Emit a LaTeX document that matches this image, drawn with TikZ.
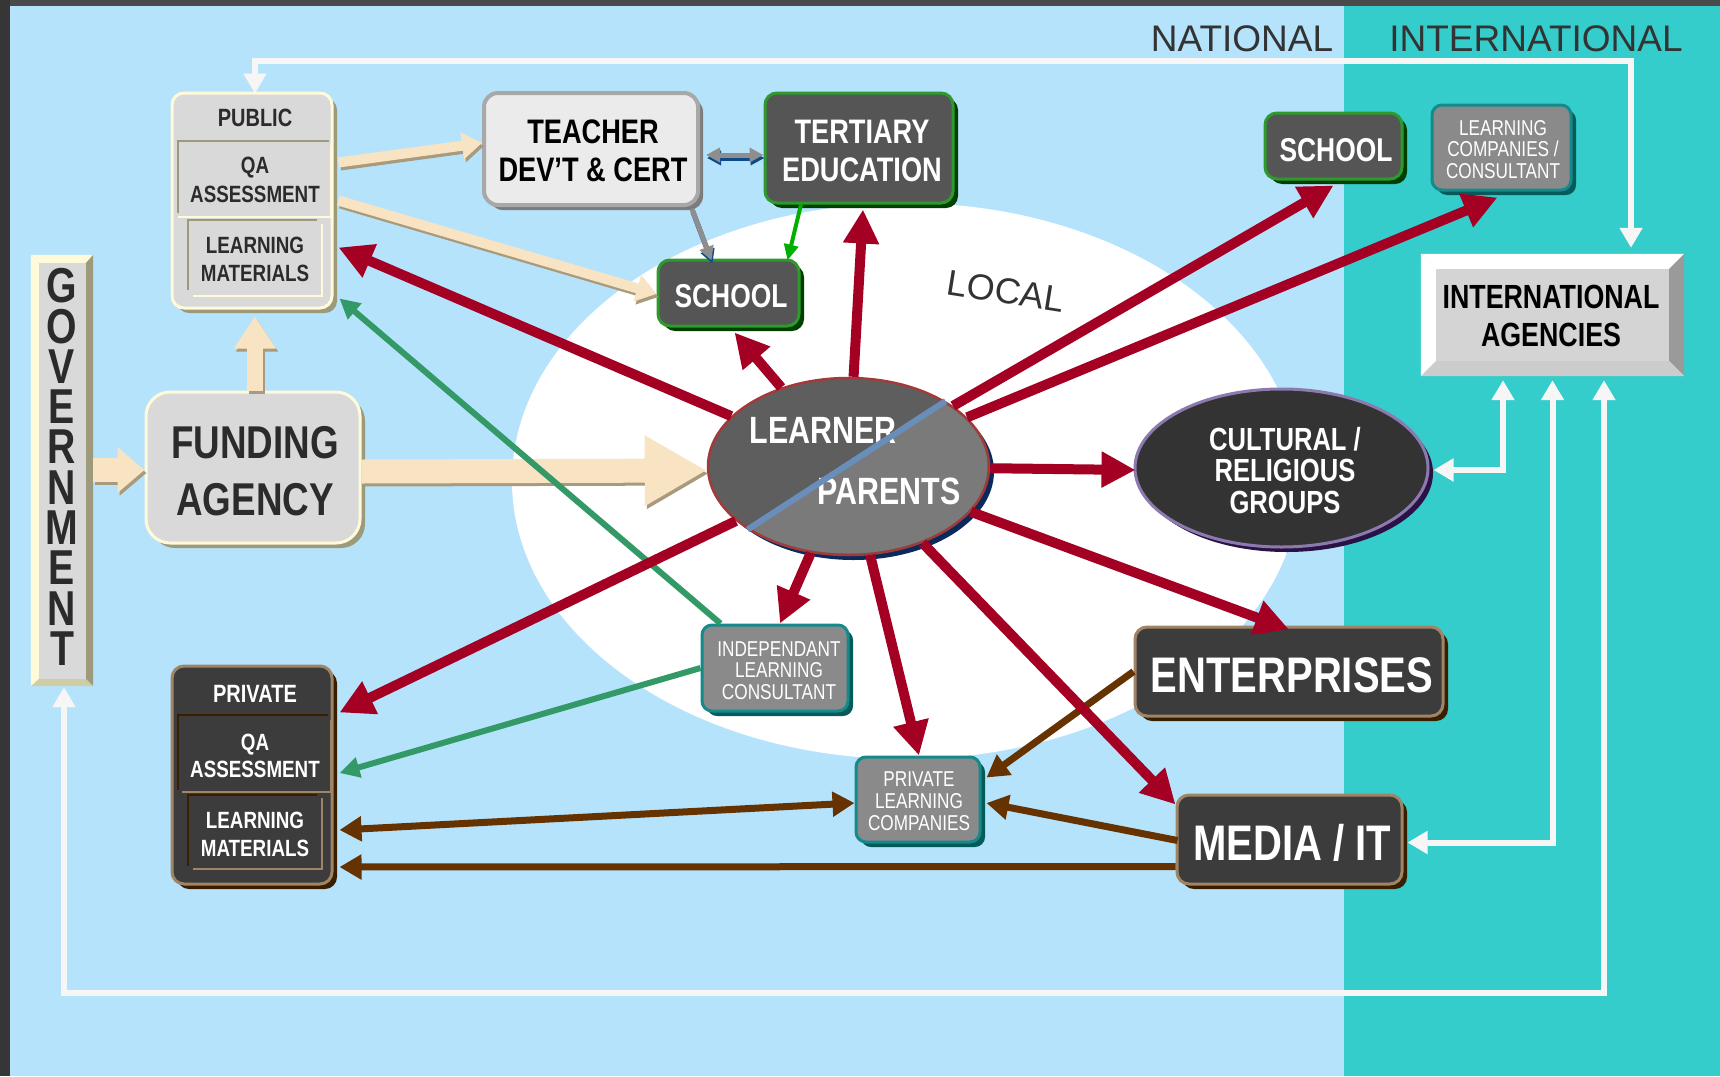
\documentclass[tikz,border=0pt]{standalone}
\usepackage{fontspec}
\setmainfont{Liberation Sans}
\newfontfamily\cnd[FakeStretch=0.8]{Liberation Sans}
\usetikzlibrary{arrows.meta,calc,shadows,shapes.geometric}
\definecolor{frameD}{HTML}{4A4A4A}
\definecolor{frameL}{HTML}{363636}
\definecolor{skyb}{HTML}{B6E3FC}
\definecolor{tealb}{HTML}{35CCCC}
\definecolor{redA}{HTML}{A30023}
\definecolor{greenA}{HTML}{339966}
\definecolor{greenT}{HTML}{00B000}
\definecolor{brownA}{HTML}{663300}
\definecolor{creamA}{HTML}{F8E4C2}
\definecolor{creamS}{HTML}{A89A7C}
\definecolor{whiteA}{HTML}{F6F6F6}
\definecolor{hiCream}{HTML}{FFFBDA}
\definecolor{khaki}{HTML}{9C9A7A}
\definecolor{khakiL}{HTML}{CFCDA5}
\definecolor{faceL}{HTML}{D9D9D9}
\definecolor{faceT}{HTML}{EBEBEB}
\definecolor{faceI}{HTML}{D4D4D4}
\definecolor{bevR}{HTML}{9A9A9A}
\definecolor{bevB}{HTML}{CCCCCC}
\definecolor{grayB}{HTML}{A8A8A8}
\definecolor{grayS}{HTML}{7C7C7C}
\definecolor{faceD}{HTML}{3C3C3C}
\definecolor{faceG}{HTML}{555555}
\definecolor{greenB}{HTML}{2E9A2E}
\definecolor{greenS}{HTML}{003F00}
\definecolor{faceM}{HTML}{8A8A8A}
\definecolor{tealB}{HTML}{16898A}
\definecolor{tealS}{HTML}{055A5A}
\definecolor{tanB}{HTML}{A08466}
\definecolor{brownS}{HTML}{3A1E00}
\definecolor{purB}{HTML}{8C7AAE}
\definecolor{purS}{HTML}{2A1245}
\definecolor{cultF}{HTML}{333333}
\definecolor{lrnA}{HTML}{5E5E5E}
\definecolor{lrnB}{HTML}{7A7A7A}
\definecolor{lrnR}{HTML}{A33A3A}
\definecolor{navyS}{HTML}{0B2A5C}
\definecolor{diagB}{HTML}{6A8EBA}
\definecolor{blueS}{HTML}{0B4A8B}
\definecolor{grayA}{HTML}{8E8E8E}
\definecolor{txtD}{HTML}{2B2B2B}
\definecolor{txtT}{HTML}{333333}
\tikzset{
  shd/.style={drop shadow={shadow xshift=5pt, shadow yshift=-5pt, opacity=1, fill=#1}},
  lightbox/.style={rectangle, rounded corners=12pt, inner sep=0pt, fill=faceL, draw=hiCream, line width=3pt, shd=khaki},
  teachbox/.style={rectangle, rounded corners=14pt, inner sep=0pt, fill=faceT, draw=grayB, line width=4pt, shd=grayS},
  greenbox/.style={rectangle, rounded corners=12pt, inner sep=0pt, fill=faceG, draw=greenB, line width=3pt, shd=greenS},
  tealbox/.style={rectangle, rounded corners=10pt, inner sep=0pt, fill=faceM, draw=tealB, line width=3pt, shd=tealS},
  brownbox/.style={rectangle, rounded corners=12pt, inner sep=0pt, fill=faceD, draw=tanB, line width=3pt, shd=brownS},
  bevelbox/.style={rectangle, inner sep=0pt},
  bt/.style 2 args={font=\cnd\bfseries\fontsize{#1}{#2}\selectfont, align=center, inner sep=0pt},
  rt/.style 2 args={font=\cnd\fontsize{#1}{#2}\selectfont, align=center, inner sep=0pt, text=white},
  plaintxt/.style={font=\fontsize{#1}{#1}\selectfont, inner sep=0pt, text=txtT},
  redar/.style={draw=redA, line width=10pt, -{Triangle[length=34pt,width=34pt]}},
  greenar/.style={draw=greenA, line width=6pt, -{Triangle[length=20pt,width=20pt]}},
  brownar/.style={draw=brownA, line width=7pt, -{Triangle[length=22pt,width=24pt]}},
  brownarr/.style={draw=brownA, line width=7pt, {Triangle[length=22pt,width=24pt]}-{Triangle[length=22pt,width=24pt]}},
  whitear/.style={draw=whiteA, line width=6pt, {Triangle[length=20pt,width=22pt]}-{Triangle[length=20pt,width=22pt]}},
  creamar/.style n args={3}{draw=creamA, line width=#1pt, -{Triangle[length=#2pt,width=#3pt]}},
  creamsh/.style n args={3}{draw=creamS, line width=#1pt, -{Triangle[length=#2pt,width=#3pt]}, transform canvas={shift={(2pt,-3pt)}}},
  grayar/.style={draw=grayA, line width=5pt, #1},
  bluear/.style={draw=blueS, line width=5pt, #1, transform canvas={shift={(1pt,-3pt)}}},
}
\begin{document}
\begin{tikzpicture}[x=1pt,y=-1pt]
\useasboundingbox (0,0) rectangle (1720,1076);
% background
\fill[frameD] (0,0) rectangle (1720,1076);
\fill[frameL] (0,0) rectangle (10,1076);
\fill[skyb] (10,6) rectangle (1344,1076);
\fill[tealb] (1344,6) rectangle (1720,1076);
\fill[white] (906,481) ellipse [x radius=394pt, y radius=278pt];
% titles
\node[plaintxt=37] (natl) at (1242,39) {NATIONAL};
\node[plaintxt=37] (intlT) at (1536,39) {INTERNATIONAL};
\node[plaintxt=36, rotate=-9] (local) at (1006,291) {LOCAL};

% GOVERNMENT
\node[bevelbox, minimum width=62pt, minimum height=431pt, fill=faceL] (gov) at (62,470.5) {};
\fill[hiCream] (gov.north west) -- (gov.north east) -- ($(gov.north east)+(-7,8)$) -- ($(gov.north west)+(8,8)$) -- cycle;
\fill[hiCream] (gov.north west) -- ($(gov.north west)+(8,8)$) -- ($(gov.south west)+(8,-7)$) -- (gov.south west) -- cycle;
\fill[khaki] (gov.north east) -- (gov.south east) -- ($(gov.south east)+(-7,-7)$) -- ($(gov.north east)+(-7,8)$) -- cycle;
\fill[khakiL] (gov.south west) -- (gov.south east) -- ($(gov.south east)+(-7,-7)$) -- ($(gov.south west)+(8,-7)$) -- cycle;
\node[bt={49}{40.3}, text=txtD] (govt) at (62,467) {G\\O\\V\\E\\R\\N\\M\\E\\N\\T};

% FUNDING AGENCY
\node[lightbox, rounded corners=24pt, minimum width=214pt, minimum height=151pt] (fund) at (253,467.5) {};
\node[bt={46}{57}, text=txtD] (fundt) at (255,471.5) {FUNDING\\AGENCY};

% PUBLIC
\node[lightbox, minimum width=160pt, minimum height=215pt] (pub) at (252,200.5) {};
\draw[khaki, line width=2.5pt] (178,213) -- (178,141) -- (329,141);
\draw[hiCream, line width=2.5pt] (331,145) -- (331,217) -- (178,217);
\draw[khaki, line width=2.5pt] (188,290) -- (188,220) -- (317,220);
\draw[hiCream, line width=2.5pt] (322,224) -- (322,296) -- (193,296);
\node[bt={25}{29}, text=txtD] (pubt1) at (255,118) {PUBLIC};
\node[bt={23.5}{29}, text=txtD] (pubt2) at (255,179.5) {QA\\ASSESSMENT};
\node[bt={23.5}{28}, text=txtD] (pubt3) at (255,259) {LEARNING\\MATERIALS};

% PRIVATE
\node[brownbox, minimum width=160pt, minimum height=218pt] (priv) at (252,775) {};
\draw[brownS, line width=2.5pt] (178,790) -- (178,715) -- (328,715);
\draw[tanB, line width=2.5pt] (331,720) -- (331,792) -- (182,792);
\draw[brownS, line width=2.5pt] (188,866) -- (188,795) -- (317,795);
\draw[tanB, line width=2.5pt] (322,798) -- (322,869) -- (193,869);
\node[bt={25}{29}, text=white] (privt1) at (255,694) {PRIVATE};
\node[bt={23.5}{27}, text=white] (privt2) at (255,755.5) {QA\\ASSESSMENT};
\node[bt={23.5}{28}, text=white] (privt3) at (255,834) {LEARNING\\MATERIALS};

% TEACHER / TERTIARY / SCHOOLS
\node[teachbox, minimum width=214pt, minimum height=112pt] (teach) at (591,149) {};
\node[bt={34}{38}, text=black] (teacht) at (593,151) {TEACHER\\DEV’T \& CERT};
\node[greenbox, minimum width=188pt, minimum height=110pt] (tert) at (859,148) {};
\node[bt={34}{38}, text=white] (tertt) at (862,151) {TERTIARY\\EDUCATION};
\node[greenbox, minimum width=141pt, minimum height=66pt] (schL) at (728.5,293) {};
\node[bt={33}{38}, text=white] (schLt) at (731,296) {SCHOOL};
\node[greenbox, minimum width=137pt, minimum height=66pt] (schI) at (1333.5,146) {};
\node[bt={33}{38}, text=white] (schIt) at (1336,150) {SCHOOL};
\node[tealbox, minimum width=139pt, minimum height=85pt] (lcc) at (1501.5,147.5) {};
\node[rt={21.5}{21.5}] (lcct) at (1503,149.5) {LEARNING\\COMPANIES /\\CONSULTANT};

% INTERNATIONAL AGENCIES
\node[bevelbox, minimum width=263pt, minimum height=122pt, fill=faceI] (intl) at (1552.5,315) {};
\fill[white] (intl.north west) -- (intl.north east) -- ($(intl.north east)+(-15,15)$) -- ($(intl.north west)+(15,15)$) -- cycle;
\fill[white] (intl.north west) -- ($(intl.north west)+(15,15)$) -- ($(intl.south west)+(15,-15)$) -- (intl.south west) -- cycle;
\fill[bevR] (intl.north east) -- (intl.south east) -- ($(intl.south east)+(-15,-15)$) -- ($(intl.north east)+(-15,15)$) -- cycle;
\fill[bevB] (intl.south west) -- (intl.south east) -- ($(intl.south east)+(-15,-15)$) -- ($(intl.south west)+(15,-15)$) -- cycle;
\node[bt={33.5}{38}, text=black] (intlt) at (1551,316) {INTERNATIONAL\\AGENCIES};

% CULTURAL
\node[ellipse, inner sep=0pt, minimum width=293pt, minimum height=158pt, fill=cultF, draw=purB, line width=3pt, shd=purS] (cult) at (1281.5,468) {};
\node[bt={32}{31.5}, text=white] (cultt) at (1285,470.5) {CULTURAL /\\RELIGIOUS\\GROUPS};

% LEARNER / PARENTS
\node[ellipse, inner sep=0pt, minimum width=281pt, minimum height=177pt, fill=lrnA, draw=lrnR, line width=2.5pt, shd=navyS] (learner) at (848.5,466.5) {};
\begin{scope}
\clip (848.5,466.5) ellipse [x radius=139pt, y radius=87pt];
\fill[lrnB] ($(learner.212)+(-96,63)$) -- ($(learner.34)+(96,-63)$) -- ($(learner.34)+(96,-63)+(126,191)$) -- ($(learner.212)+(-96,63)+(126,191)$) -- cycle;
\end{scope}
\node[bt={38}{40}, text=white] (learnert) at (823,430) {LEARNER};
\node[bt={38}{40}, text=white] (parentt) at (889,491) {PARENTS};
\draw[diagB, line width=6pt] (learner.212) -- (learner.34);

% ENTERPRISES, MEDIA, PLC, ILC
\node[brownbox, minimum width=308pt, minimum height=89pt] (ent) at (1289,671.5) {};
\node[bt={50}{50}, text=white] (entt) at (1292,675) {ENTERPRISES};
\node[brownbox, minimum width=225pt, minimum height=89pt] (media) at (1289.5,839.5) {};
\node[bt={50}{50}, text=white] (mediat) at (1292,843) {MEDIA / IT};
\node[tealbox, minimum width=124pt, minimum height=85pt] (plc) at (918,799.5) {};
\node[rt={21.5}{22}] (plct) at (919,801) {PRIVATE\\LEARNING\\COMPANIES};
\node[tealbox, minimum width=146pt, minimum height=86pt] (ilc) at (775,668) {};
\node[rt={21.5}{21.5}] (ilct) at (779,670.5) {INDEPENDANT\\LEARNING\\CONSULTANT};

% cream arrows
\draw[creamsh={24}{27}{44}] ($(gov.east)+(0,-0.5)$) -- ($(fund.west)+(0,2.5)$);
\draw[creamar={24}{27}{44}] ($(gov.east)+(0,-0.5)$) -- ($(fund.west)+(0,2.5)$);
\draw[creamsh={16}{32}{40}] ($(fund.north)+(2,0)$) -- ($(pub.south)+(3,7)$);
\draw[creamar={16}{32}{40}] ($(fund.north)+(2,0)$) -- ($(pub.south)+(3,7)$);
\draw[creamsh={24}{62}{66}] ($(fund.east)+(0,4)$) -- ($(learner.west)+(0,4)$);
\draw[creamar={24}{62}{66}] ($(fund.east)+(0,4)$) -- ($(learner.west)+(0,4)$);
\draw[creamsh={10}{20}{26}] ($(pub.east)+(5,-38)$) -- ($(teach.west)+(0,-6)$);
\draw[creamar={10}{20}{26}] ($(pub.east)+(5,-38)$) -- ($(teach.west)+(0,-6)$);
\draw[creamsh={10}{20}{26}] ($(pub.east)+(5,0)$) -- ($(schL.west)+(0,1)$);
\draw[creamar={10}{20}{26}] ($(pub.east)+(5,0)$) -- ($(schL.west)+(0,1)$);

% white connectors
\draw[whitear] ($(pub.north)+(3,2)$) -- ++(0,-33) -| ($(intl.north)+(78.5,-6)$);
\draw[whitear] ($(gov.south)+(2,1)$) -- ++(0,306) -| ($(intl.south)+(51.5,4)$);
\draw[whitear] ($(cult.east)+(4,2)$) -| ($(intl.south)+(-49.5,4)$);
\draw[whitear] ($(media.east)+(4,3)$) -| ($(intl.south)+(0,4)$);

% teacher / tertiary links
\draw[bluear={{Triangle[length=14pt,width=14pt]}-{Triangle[length=14pt,width=14pt]}}] ($(teach.east)+(6,6)$) -- ($(tert.west)+(0,7)$);
\draw[grayar={{Triangle[length=14pt,width=14pt]}-{Triangle[length=14pt,width=14pt]}}] ($(teach.east)+(6,6)$) -- ($(tert.west)+(0,7)$);
\draw[bluear={-{Triangle[length=14pt,width=14pt]}}] ($(teach.south east)+(-8,2)$) -- ($(schL.north)+(-17,2)$);
\draw[grayar={-{Triangle[length=14pt,width=14pt]}}] ($(teach.south east)+(-8,2)$) -- ($(schL.north)+(-17,2)$);
\draw[draw=greenT, line width=4pt, -{Triangle[length=16pt,width=14pt]}] ($(tert.south)+(-58,0)$) -- ($(schL.north east)+(-13,2)$);

% green arrows
\draw[greenar] ($(ilc.north west)+(20,0)$) -- ($(pub.south east)+(6,-11)$);
\draw[greenar] (ilc.west) -- ($(priv.east)+(6,-2)$);

% brown arrows
\draw[brownarr] ($(priv.east)+(6,55)$) -- ($(plc.west)+(0,3.5)$);
\draw[brownar] (ent.west) -- ($(plc.east)+(5,-22)$);
\draw[brownar] ($(media.west)+(2,1)$) -- ($(plc.east)+(5,3.5)$);
\draw[brownar] ($(media.west)+(0,27)$) -- ($(priv.east)+(6,92)$);

% red arrows from learner
\draw[redar] (learner) -- ($(pub.east)+(5,47)$);
\draw[redar] (learner) -- ($(schL.south)+(6,5)$);
\draw[redar] (learner) -- ($(tert.south)+(4,5)$);
\draw[redar] (learner) -- ($(schI.south)+(0,5)$);
\draw[redar] (learner) -- ($(lcc.south)+(-4,6)$);
\draw[redar] (learner) -- ($(cult.west)+(2,2)$);
\draw[redar] (learner) -- ($(ent.north)+(0,4)$);
\draw[redar] (learner) -- ($(media.north west)+(0,11)$);
\draw[redar] (learner) -- ($(plc.north)+(1,0)$);
\draw[redar] (learner) -- ($(ilc.north)+(5,0)$);
\draw[redar] (learner) -- ($(priv.north east)+(6,48)$);
\end{tikzpicture}
\end{document}
